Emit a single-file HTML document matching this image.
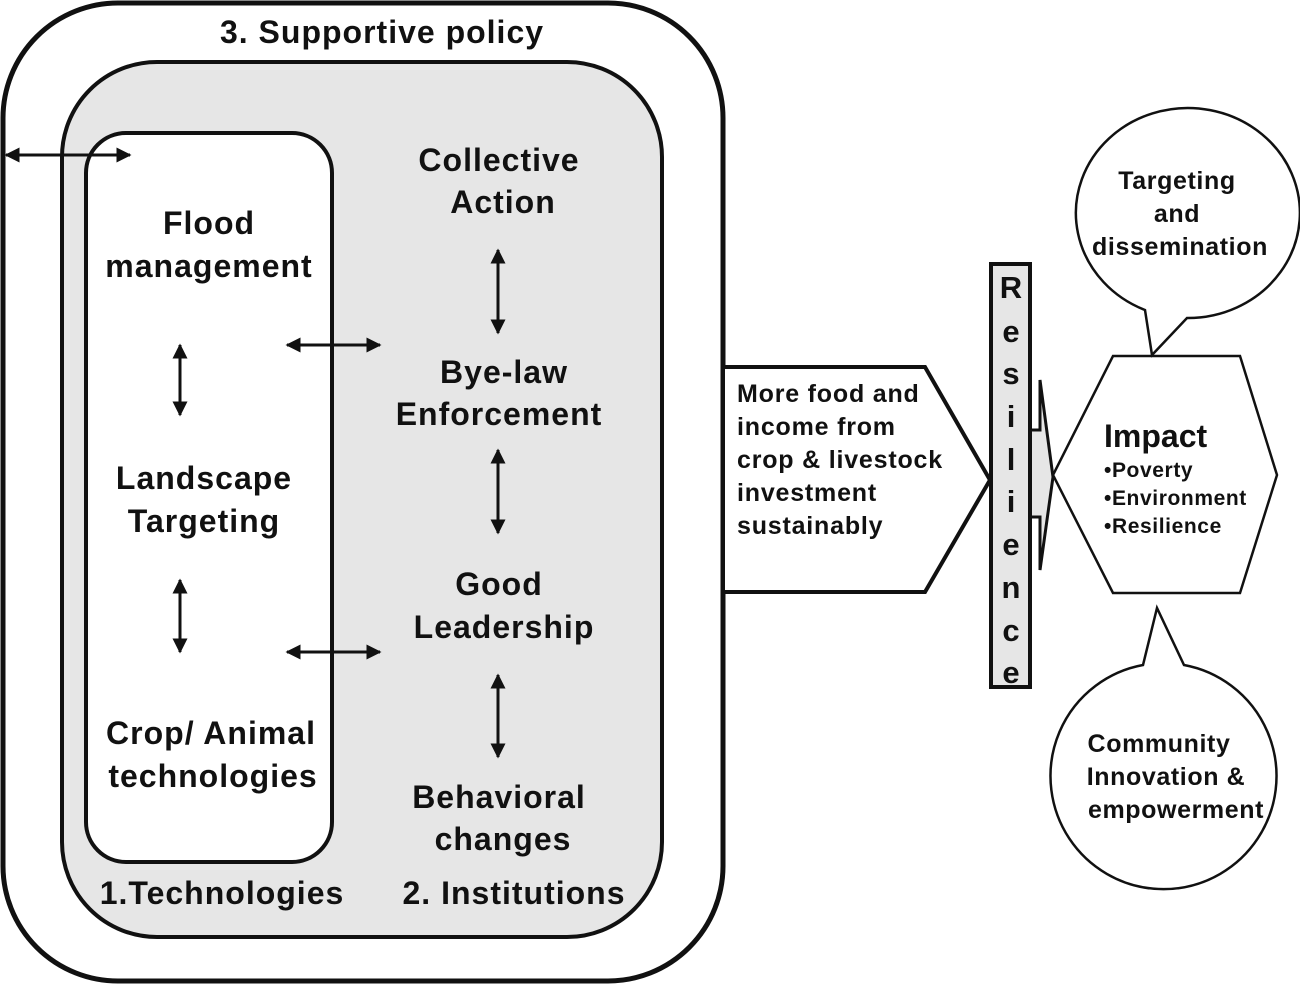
<!DOCTYPE html>
<html><head><style>body{margin:0;background:#fff}svg{display:block}text{font-family:"Liberation Sans",Arial,sans-serif;font-weight:bold;fill:#111}</style></head>
<body>
<svg width="1300" height="985" viewBox="0 0 1300 985" xmlns="http://www.w3.org/2000/svg">
<defs>
<marker id="a" viewBox="0 0 10 10" refX="9" refY="5" markerWidth="5" markerHeight="5" orient="auto-start-reverse"><path d="M0,0L10,5L0,10z" fill="#111"/></marker>
</defs>
<rect x="3" y="3" width="720" height="978" rx="115" fill="#fff" stroke="#111" stroke-width="5"/>
<rect x="62" y="62" width="600" height="875" rx="95" fill="#e6e6e6" stroke="#111" stroke-width="4"/>
<rect x="86" y="133" width="246" height="729" rx="40" fill="#fff" stroke="#111" stroke-width="4"/>
<g stroke="#111" stroke-width="3" marker-start="url(#a)" marker-end="url(#a)">
<line x1="6" y1="155" x2="130" y2="155"/>
<line x1="287" y1="345" x2="380" y2="345"/>
<line x1="287" y1="652" x2="380" y2="652"/>
<line x1="180" y1="345" x2="180" y2="415"/>
<line x1="180" y1="580" x2="180" y2="652"/>
<line x1="498" y1="250" x2="498" y2="333"/>
<line x1="498" y1="450" x2="498" y2="533"/>
<line x1="498" y1="675" x2="498" y2="757"/>
</g>
<g font-size="32" text-anchor="middle" letter-spacing="1">
<text x="382" y="43">3. Supportive policy</text>
<text x="209" y="234">Flood</text><text x="209" y="277">management</text>
<text x="204" y="489">Landscape</text><text x="204" y="532">Targeting</text>
<text x="211" y="744">Crop/ Animal</text><text x="213" y="787">technologies</text>
<text x="499" y="171">Collective</text><text x="503" y="213">Action</text>
<text x="504" y="383">Bye-law</text><text x="499" y="425">Enforcement</text>
<text x="499" y="595">Good</text><text x="504" y="638">Leadership</text>
<text x="499" y="808">Behavioral</text><text x="503" y="850">changes</text>
<text x="222" y="904">1.Technologies</text>
<text x="514" y="904">2. Institutions</text>
</g>
<polygon points="723,367 925,367 990,480 925,592 723,592" fill="#fff" stroke="#111" stroke-width="4"/>
<g font-size="25" letter-spacing="0.8"><text x="737" y="402">More food and</text><text x="737" y="435">income from</text><text x="737" y="468">crop &amp; livestock</text><text x="737" y="501">investment</text><text x="737" y="534">sustainably</text></g>
<polygon points="1030,430 1040,430 1040,380 1053,477 1040,570 1040,517 1030,517" fill="#e6e6e6" stroke="#111" stroke-width="3"/>
<rect x="991" y="264" width="39" height="423" fill="#e6e6e6" stroke="#111" stroke-width="4"/>
<g font-size="31" text-anchor="middle">
<text x="1011" y="298">R</text><text x="1011" y="342">e</text><text x="1011" y="384">s</text><text x="1011" y="427">i</text><text x="1011" y="470">l</text><text x="1011" y="512">i</text><text x="1011" y="555">e</text><text x="1011" y="598">n</text><text x="1011" y="641">c</text><text x="1011" y="683">e</text>
</g>
<polygon points="1113,356 1240,356 1277,475 1240,593 1113,593 1053,475" fill="#fff" stroke="#111" stroke-width="2.5"/>
<text x="1104" y="447" font-size="32">Impact</text>
<g font-size="21" letter-spacing="0.6"><text x="1104" y="477">•Poverty</text><text x="1104" y="505">•Environment</text><text x="1104" y="533">•Resilience</text></g>
<path d="M1145,310 A112,105 0 1 1 1187,318 L1152,355 Z" fill="#fff" stroke="#111" stroke-width="2.5"/>
<path d="M1184,665 A113,113 0 1 1 1143,665 L1157,608 Z" fill="#fff" stroke="#111" stroke-width="2.5"/>
<g font-size="25" text-anchor="middle" letter-spacing="0.6"><text x="1177" y="189">Targeting</text><text x="1177" y="222">and</text><text x="1180" y="255">dissemination</text>
<text x="1159" y="752">Community</text><text x="1166" y="785">Innovation &amp;</text><text x="1176" y="818">empowerment</text></g>
</svg>
</body></html>
